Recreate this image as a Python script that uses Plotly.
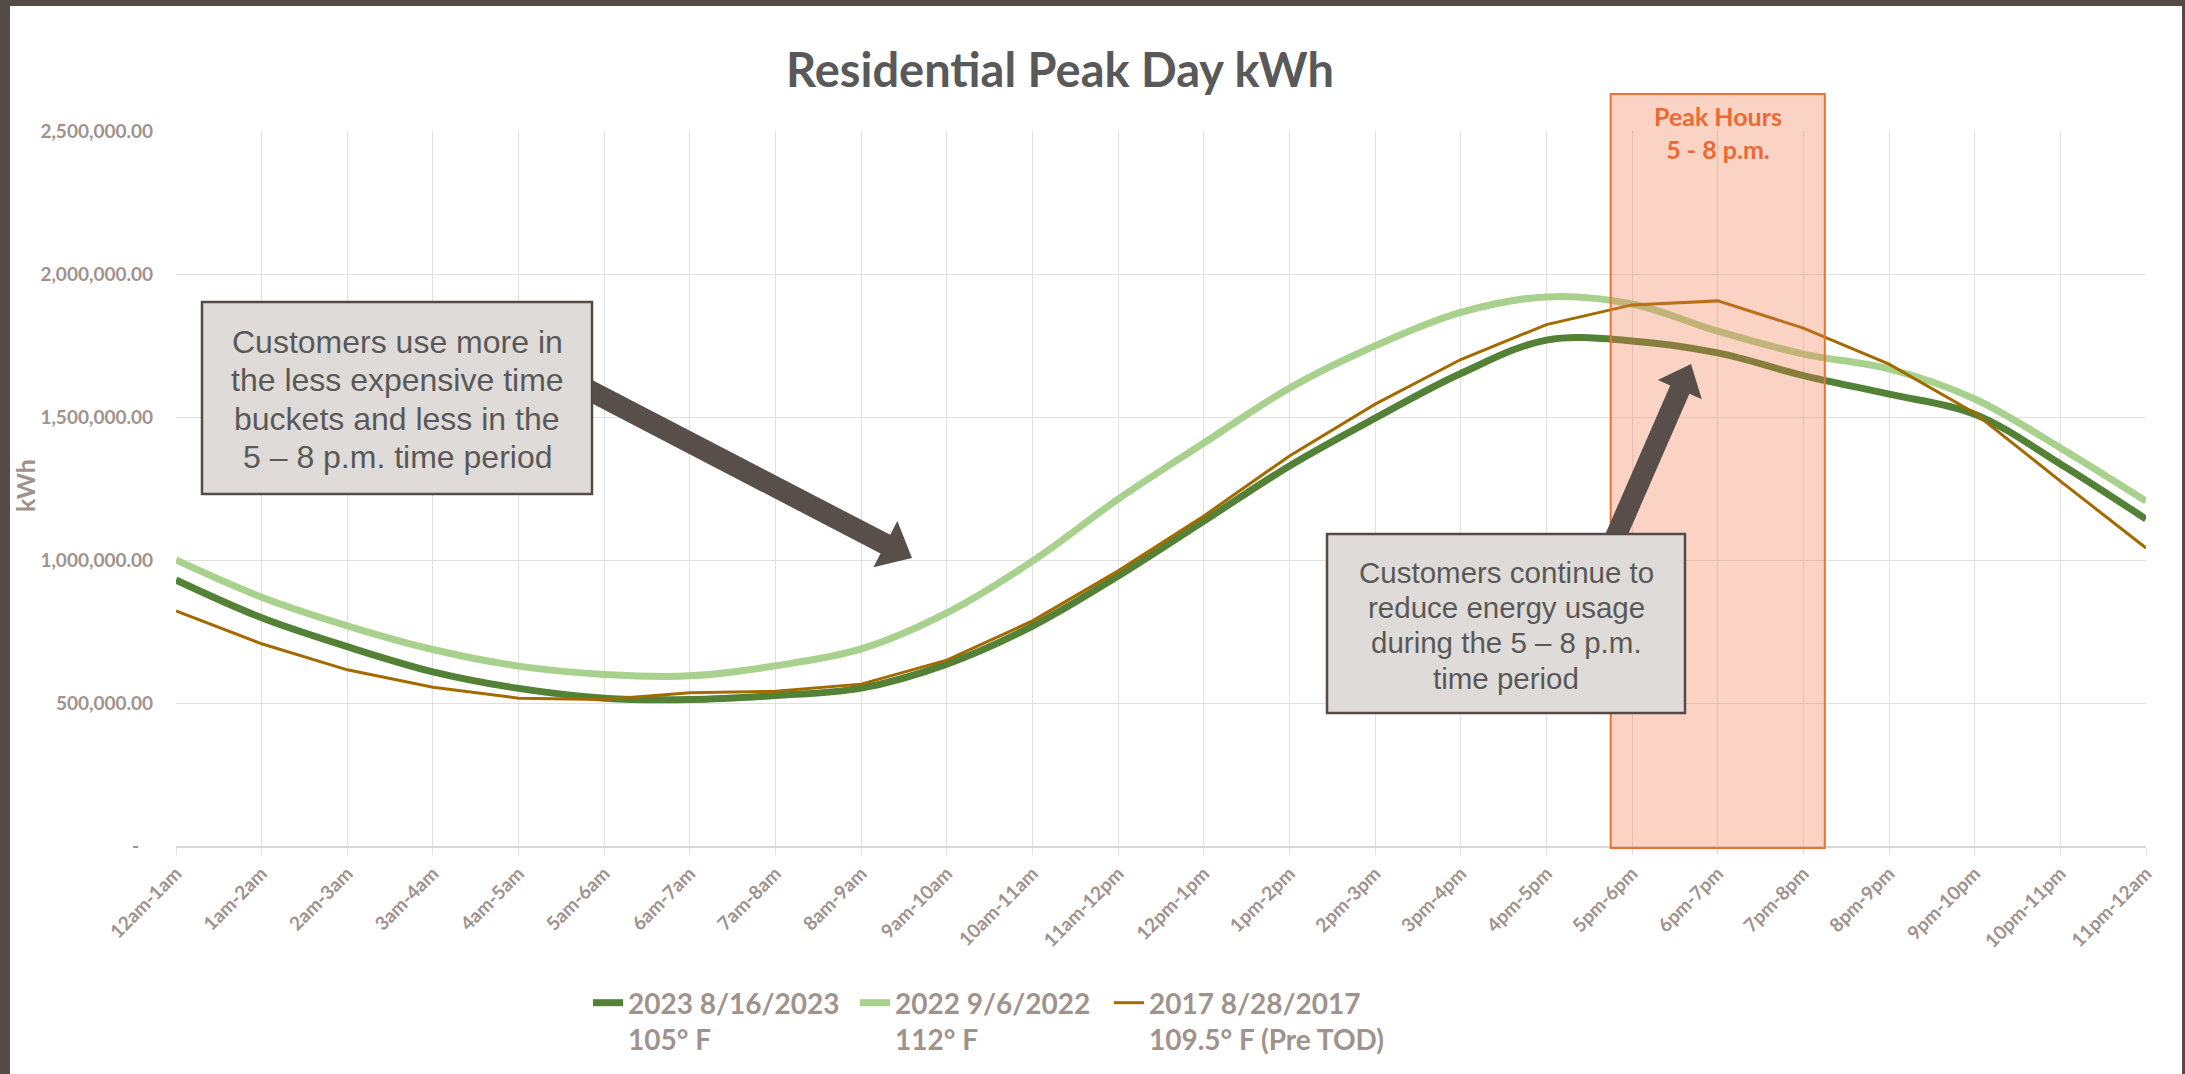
import math
import plotly.graph_objects as go

# ---------------- data ----------------
hours = ["12am-1am", "1am-2am", "2am-3am", "3am-4am", "4am-5am", "5am-6am",
         "6am-7am", "7am-8am", "8am-9am", "9am-10am", "10am-11am", "11am-12pm",
         "12pm-1pm", "1pm-2pm", "2pm-3pm", "3pm-4pm", "4pm-5pm", "5pm-6pm",
         "6pm-7pm", "7pm-8pm", "8pm-9pm", "9pm-10pm", "10pm-11pm", "11pm-12am"]

kwh_2023 = [930000, 798000, 697000, 609000, 551000, 517000, 512000, 526000,
            552000, 636000, 769000, 944000, 1136000, 1329000, 1496000, 1652000,
            1769000, 1766000, 1724000, 1645000, 1580000, 1510000, 1336000, 1143000]

kwh_2022 = [1000000, 870000, 770000, 687000, 629000, 600000, 595000, 630000,
            689000, 815000, 996000, 1213000, 1409000, 1601000, 1749000, 1866000,
            1920000, 1895000, 1800000, 1720000, 1668000, 1563000, 1392000, 1206000]

kwh_2017 = [822000, 707000, 616000, 555000, 517000, 512000, 536000, 541000,
            566000, 650000, 787000, 962000, 1154000, 1364000, 1545000, 1701000,
            1823000, 1892000, 1906000, 1811000, 1685000, 1514000, 1276000, 1042000]

series_names = ["2023 8/16/2023<br>105° F",
                "2022 9/6/2022<br>112° F",
                "2017 8/28/2017<br>109.5° F (Pre TOD)"]

y_tickvals = [0, 500000, 1000000, 1500000, 2000000, 2500000]
y_ticktext = ["-\u00a0\u00a0\u00a0", "500,000.00", "1,000,000.00", "1,500,000.00",
              "2,000,000.00", "2,500,000.00"]

peak_start, peak_end = "5pm-6pm", "7pm-8pm"

note_left = ["Customers use more in", "the less expensive time",
             "buckets and less in the", "5 – 8 p.m. time period"]
note_right = ["Customers continue to", "reduce energy usage",
              "during the 5 – 8 p.m.", "time period"]

# ---------------- layout geometry ----------------
W_FIG, H_FIG = 2185, 1074
L, R, T, B = 176, 39, 131, 228
PW, PH = W_FIG - L - R, H_FIG - T - B


def px_x(px):
    return (px - L) / PW


def px_y(py):
    return (T + PH - py) / PH


AX_FONT = "Lato, 'Open Sans', sans-serif"
BOX_FONT = "'Liberation Sans', Arial, sans-serif"
LABEL_COLOR = "#a0928d"
GRID = "#e2dfdf"
DARK = "#554b46"

fig = go.Figure()
fig.add_trace(go.Scatter(x=hours, y=kwh_2023, name=series_names[0], mode="lines",
                         legendwidth=222,
                         line=dict(color="#538135", width=7, shape="spline", smoothing=1)))
fig.add_trace(go.Scatter(x=hours, y=kwh_2022, name=series_names[1], mode="lines",
                         legendwidth=209,
                         line=dict(color="#a9d18e", width=7, shape="spline", smoothing=1)))
fig.add_trace(go.Scatter(x=hours, y=kwh_2017, name=series_names[2], mode="lines",
                         line=dict(color="#a36a00", width=3)))

n = len(hours)
i0, i1 = hours.index(peak_start), hours.index(peak_end)
shapes = []
# peak-hours band
shapes.append(dict(type="rect", xref="paper", yref="paper",
                   x0=(i0 - 0.25) / (n - 1), x1=(i1 + 0.25) / (n - 1),
                   y0=px_y(848), y1=px_y(94),
                   fillcolor="rgba(240,120,80,0.33)",
                   line=dict(color="#ee6f33", width=2), layer="above"))


def arrow_path(tail, tip, sw, hw, hl):
    (x0, y0), (x1, y1) = tail, tip
    dx, dy = x1 - x0, y1 - y0
    ln = math.hypot(dx, dy)
    ux, uy = dx / ln, dy / ln
    nx, ny = -uy, ux
    bx, by = x1 - ux * hl, y1 - uy * hl
    pts = [
        (x0 + nx * sw / 2, y0 + ny * sw / 2),
        (bx + nx * sw / 2, by + ny * sw / 2),
        (bx + nx * hw / 2, by + ny * hw / 2),
        (x1, y1),
        (bx - nx * hw / 2, by - ny * hw / 2),
        (bx - nx * sw / 2, by - ny * sw / 2),
        (x0 - nx * sw / 2, y0 - ny * sw / 2),
    ]
    return "M " + " L ".join(f"{px_x(a):.5f},{px_y(b):.5f}" for a, b in pts) + " Z"


shapes.append(dict(type="path", xref="paper", yref="paper",
                   path=arrow_path((585, 388), (912, 558), 21, 52, 30),
                   fillcolor="#594f4a", line=dict(width=0), layer="above"))
shapes.append(dict(type="path", xref="paper", yref="paper",
                   path=arrow_path((1612, 545), (1691, 364), 21, 48, 28),
                   fillcolor="#594f4a", line=dict(width=0), layer="above"))

# text boxes
for (bx0, by0, bx1, by1) in [(202, 302, 592, 494), (1327, 534, 1685, 713)]:
    shapes.append(dict(type="rect", xref="paper", yref="paper",
                       x0=px_x(bx0), x1=px_x(bx1), y0=px_y(by1), y1=px_y(by0),
                       fillcolor="#dfdbd8", line=dict(color=DARK, width=2.5),
                       layer="above"))

# dark frame bands
shapes.append(dict(type="rect", xref="paper", yref="paper",
                   x0=px_x(0), x1=px_x(10), y0=px_y(H_FIG), y1=px_y(0),
                   fillcolor=DARK, line=dict(width=0), layer="above"))
shapes.append(dict(type="rect", xref="paper", yref="paper",
                   x0=px_x(0), x1=px_x(W_FIG), y0=px_y(6), y1=px_y(0),
                   fillcolor=DARK, line=dict(width=0), layer="above"))
shapes.append(dict(type="rect", xref="paper", yref="paper",
                   x0=px_x(2182), x1=px_x(W_FIG), y0=px_y(H_FIG), y1=px_y(0),
                   fillcolor=DARK, line=dict(width=0), layer="above"))

annotations = [
    dict(text="<b>Peak Hours<br>5 - 8 p.m.</b>", xref="paper", yref="paper",
         x=((i0 + i1) / 2) / (n - 1), y=px_y(133), xanchor="center", yanchor="middle",
         showarrow=False, font=dict(family=AX_FONT, size=25, color="#eb6a34"),
         align="center"),
    dict(text="<b>kWh</b>", xref="paper", yref="paper", x=px_x(25), y=px_y(486),
         xanchor="center", yanchor="middle", showarrow=False, textangle=-90,
         font=dict(family=AX_FONT, size=25, color=LABEL_COLOR)),
]
for k, line in enumerate(note_left):
    annotations.append(dict(text=line, xref="paper", yref="paper",
                            x=px_x(397), y=px_y(342 + 38.4 * k),
                            xanchor="center", yanchor="middle", showarrow=False,
                            font=dict(family=BOX_FONT, size=32, color="#595959")))
for k, line in enumerate(note_right):
    annotations.append(dict(text=line, xref="paper", yref="paper",
                            x=px_x(1506), y=px_y(572 + 35.4 * k),
                            xanchor="center", yanchor="middle", showarrow=False,
                            font=dict(family=BOX_FONT, size=29.5, color="#595959")))

fig.update_layout(
    width=W_FIG, height=H_FIG,
    margin=dict(l=L, r=R, t=T, b=B, autoexpand=False),
    paper_bgcolor="white", plot_bgcolor="white",
    title=dict(text="<b>Residential Peak Day kWh</b>", x=1060 / W_FIG, xanchor="center",
               y=1 - 71 / H_FIG, yanchor="middle",
               font=dict(family=AX_FONT, size=47, color="#595959")),
    xaxis=dict(type="category", categoryorder="array", categoryarray=hours,
               range=[0, n - 1], showgrid=True, gridcolor=GRID, gridwidth=1,
               ticks="outside", ticklen=7, tickcolor=GRID, tickangle=-45,
               showline=True, linecolor="#d9d9d9", linewidth=2,
               tickfont=dict(family=AX_FONT, size=19, color=LABEL_COLOR, weight="bold")),
    yaxis=dict(range=[0, 2500000], tickvals=y_tickvals, ticktext=y_ticktext,
               showgrid=True, gridcolor=GRID, gridwidth=1, zeroline=False,
               ticks="", ticklabelstandoff=22,
               tickfont=dict(family=AX_FONT, size=19, color=LABEL_COLOR, weight="bold")),
    legend=dict(orientation="h", x=px_x(588), xanchor="left", y=px_y(978), yanchor="top",
                valign="top", bgcolor="rgba(0,0,0,0)",
                font=dict(family=AX_FONT, size=28, color=LABEL_COLOR, weight="bold"),
                itemwidth=30, tracegroupgap=0),
    shapes=shapes,
    annotations=annotations,
    showlegend=True,
)

fig.write_html("out.html",
               config={"displayModeBar": False},
               post_script="document.body.style.margin='0px';document.body.style.overflow='hidden';")
